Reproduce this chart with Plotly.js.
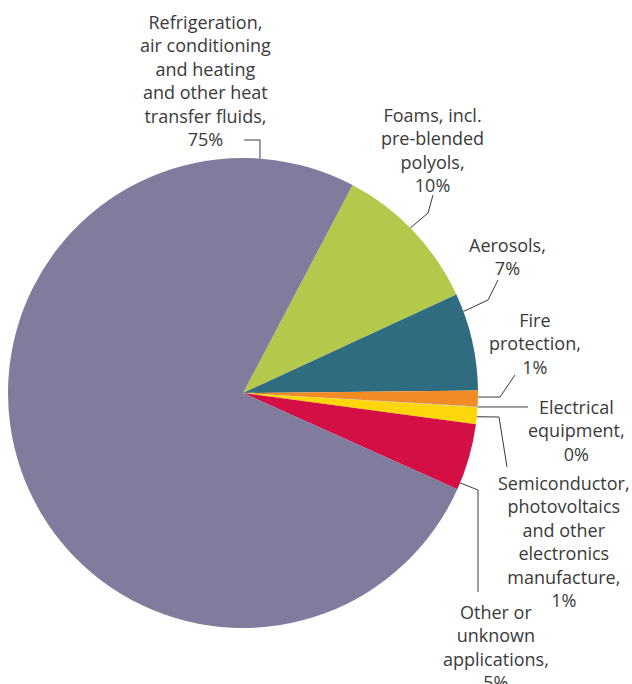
<!DOCTYPE html>
<html>
<head>
<meta charset="utf-8">
<script src="https://cdn.plot.ly/plotly-3.0.1.min.js"></script>
<style>html,body{margin:0;padding:0;background:#fff;}#chart{width:632px;height:684px;}</style>
</head>
<body>
<div id="chart"></div>
<script>
// ---- data (clockwise from the Foams slice) ----
var categories = [
  "Foams, incl. pre-blended polyols",
  "Aerosols",
  "Fire protection",
  "Electrical equipment",
  "Semiconductor, photovoltaics and other electronics manufacture",
  "Other or unknown applications",
  "Refrigeration, air conditioning and heating and other heat transfer fluids"
];
var shares = [10.4, 6.7, 1.1, 0.05, 1.15, 4.6, 76.0];
var labelTexts = [
  "Foams, incl.<br>pre-blended<br>polyols,<br>10%",
  "Aerosols,<br>7%",
  "Fire<br>protection,<br>1%",
  "Electrical<br>equipment,<br>0%",
  "Semiconductor,<br>photovoltaics<br>and other<br>electronics<br>manufacture,<br>1%",
  "Other or<br>unknown<br>applications,<br>5%",
  "Refrigeration,<br>air conditioning<br>and heating<br>and other heat<br>transfer fluids,<br>75%"
];
var colors = ["#b4c94b", "#2f6c80", "#f38b25", "#a9a9a9", "#ffd60a", "#d30f45", "#7f7c9d"];

// ---- layout / style ----
var W = 632, H = 684;
var CX = 243, CY = 393, R = 235;
var ROT = 27.8;
// label boxes (pixel centres) and leader geometry; anchorFrac = position within slice
var labelLayout = [
  {tx: 432, ty: 150, anchorFrac: 0.47, path: [[433,195],[428,213]]},
  {tx: 508, ty: 256, anchorFrac: 0.185, path: [[498,280],[488,300]]},
  {tx: 535, ty: 343, anchorFrac: 0.41, path: [[515,375],[500,null]]},
  {tx: 576, ty: 430, anchorFrac: 0.5, path: [[528,null]]},
  {tx: 564, ty: 541, anchorFrac: 0.556, path: [[507,467],[499,417]]},
  {tx: 496, ty: 647, anchorFrac: 0.897, path: [[478,592],[478,490]]},
  {tx: 205, ty: 80, anchorFrac: 0.9135, path: [[244,140],[260,140]]}
];

function px(x){ return x / W; }
function py(y){ return 1 - y / H; }

var total = shares.reduce(function(a,b){return a+b;}, 0);
var cum = 0;
var shapes = [], annotations = [];
shares.forEach(function(v, i){
  var L = labelLayout[i];
  var ang = (ROT + 360 * (cum + L.anchorFrac * v) / total) * Math.PI / 180;
  cum += v;
  var ex = CX + R * Math.sin(ang), ey = CY - R * Math.cos(ang);
  var pts = L.path.map(function(p){ return [p[0], p[1] === null ? ey : p[1]]; });
  pts.push([ex, ey]);
  for (var k = 0; k < pts.length - 1; k++) {
    shapes.push({type: 'line', xref: 'paper', yref: 'paper',
      x0: px(pts[k][0]), y0: py(pts[k][1]), x1: px(pts[k+1][0]), y1: py(pts[k+1][1]),
      line: {color: '#3a3a3a', width: 1}});
  }
  annotations.push({xref: 'paper', yref: 'paper', x: px(L.tx), y: py(L.ty),
    xanchor: 'center', yanchor: 'middle', showarrow: false, align: 'center',
    text: labelTexts[i], font: {family: 'Open Sans', size: 18, color: '#3a3a3a'}});
});

var trace = {
  type: 'pie',
  labels: categories,
  values: shares,
  sort: false,
  direction: 'clockwise',
  rotation: ROT,
  textinfo: 'none',
  hoverinfo: 'label+percent',
  marker: {colors: colors, line: {width: 0}},
  domain: {x: [px(CX - R), px(CX + R)], y: [py(CY + R), py(CY - R)]}
};

Plotly.newPlot('chart', [trace], {
  width: W, height: H,
  margin: {l: 0, r: 0, t: 0, b: 0},
  showlegend: false,
  paper_bgcolor: '#fff',
  shapes: shapes,
  annotations: annotations
}, {displayModeBar: false, staticPlot: true});
</script>
</body>
</html>
